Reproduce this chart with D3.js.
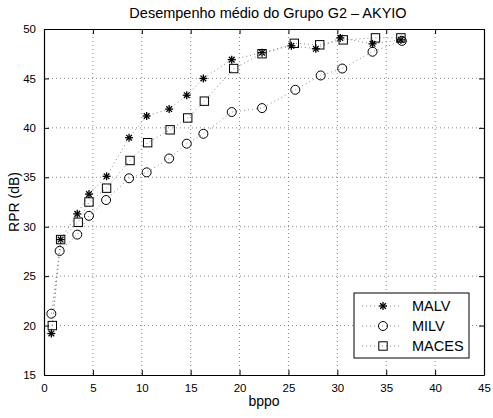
<!DOCTYPE html>
<html>
<head>
<meta charset="utf-8">
<script src="https://cdn.jsdelivr.net/npm/d3@7"></script>
<style>
  body { margin: 0; background: #fff; }
  svg { display: block; font-family: "Liberation Sans", Arial, sans-serif; }
</style>
</head>
<body>
<div id="chart"></div>
<script>
var title = "Desempenho médio do Grupo G2 – AKYIO";
var xLabel = "bppo", yLabel = "RPR (dB)";
var xTicks = [0, 5, 10, 15, 20, 25, 30, 35, 40, 45];
var yTicks = [15, 20, 25, 30, 35, 40, 45, 50];

var malvX = [0.75, 1.7, 3.4, 4.6, 6.4, 8.7, 10.5, 12.8, 14.6, 16.3, 19.2, 22.3, 25.3, 27.8, 30.3, 33.6, 36.5];
var malvY = [19.2, 28.7, 31.3, 33.3, 35.1, 39.0, 41.2, 41.9, 43.3, 45.0, 46.9, 47.6, 48.3, 48.0, 49.1, 48.5, 48.9];
var milvX = [0.75, 1.6, 3.4, 4.6, 6.35, 8.7, 10.5, 12.8, 14.6, 16.3, 19.2, 22.3, 25.7, 28.3, 30.5, 33.6, 36.6];
var milvY = [21.2, 27.55, 29.2, 31.1, 32.7, 34.9, 35.5, 36.9, 38.4, 39.4, 41.6, 42.0, 43.85, 45.3, 46.0, 47.7, 48.8];
var macesX = [0.85, 1.7, 3.5, 4.6, 6.4, 8.8, 10.6, 12.9, 14.7, 16.4, 19.4, 22.3, 25.6, 28.2, 30.6, 33.9, 36.5];
var macesY = [20.0, 28.7, 30.45, 32.5, 33.9, 36.7, 38.5, 39.8, 41.0, 42.7, 46.0, 47.5, 48.55, 48.4, 48.9, 49.1, 49.1];

var seriesNames = ["MALV", "MILV", "MACES"];
var seriesX = [malvX, milvX, macesX];
var seriesY = [malvY, milvY, macesY];
var markers = ["star", "circle", "square"];

var width = 493, height = 418;
var margin = {top: 29, right: 9, bottom: 43, left: 44};
var w = width - margin.left - margin.right,
    h = height - margin.top - margin.bottom;

var svg = d3.select("#chart").append("svg")
    .attr("width", width)
    .attr("height", height);

var g = svg.append("g")
    .attr("transform", "translate(" + margin.left + "," + margin.top + ")");

var x = d3.scaleLinear().domain([0, 45]).range([0, w]);
var y = d3.scaleLinear().domain([15, 50]).range([h, 0]);

// grid
g.selectAll(".gx").data(xTicks.slice(1, -1)).enter().append("line")
    .attr("x1", x).attr("x2", x).attr("y1", 0).attr("y2", h)
    .attr("stroke", "#555").attr("stroke-width", 0.7)
    .attr("stroke-dasharray", "1,3");
g.selectAll(".gy").data(yTicks.slice(1, -1)).enter().append("line")
    .attr("y1", y).attr("y2", y).attr("x1", 0).attr("x2", w)
    .attr("stroke", "#555").attr("stroke-width", 0.7)
    .attr("stroke-dasharray", "1,3");

// axes, ticks pointing inward
var axB = g.append("g").attr("transform", "translate(0," + h + ")")
    .call(d3.axisBottom(x).tickValues(xTicks).tickSizeInner(-5).tickSizeOuter(0).tickPadding(9));
var axT = g.append("g")
    .call(d3.axisTop(x).tickValues(xTicks).tickSizeInner(-5).tickSizeOuter(0).tickFormat(""));
var axL = g.append("g")
    .call(d3.axisLeft(y).tickValues(yTicks).tickSizeInner(-5).tickSizeOuter(0).tickPadding(8));
var axR = g.append("g").attr("transform", "translate(" + w + ",0)")
    .call(d3.axisRight(y).tickValues(yTicks).tickSizeInner(-5).tickSizeOuter(0).tickFormat(""));

[axB, axT, axL, axR].forEach(function(a) {
  a.select(".domain").attr("stroke", "#000").attr("stroke-width", 1.2);
  a.selectAll(".tick line").attr("stroke", "#000");
  a.selectAll("text").attr("font-size", 11.5).attr("fill", "#000")
      .attr("font-family", "Liberation Sans, Arial, sans-serif");
});

var line = d3.line()
    .x(function(d) { return x(d[0]); })
    .y(function(d) { return y(d[1]); });

function drawMarker(sel, type, cx, cy) {
  if (type === "star") {
    var s = sel.append("g").attr("transform", "translate(" + cx + "," + cy + ")");
    [0, 45, 90, 135].forEach(function(a) {
      s.append("line").attr("x1", -4).attr("x2", 4).attr("y1", 0).attr("y2", 0)
          .attr("transform", "rotate(" + a + ")")
          .attr("stroke", "#000").attr("stroke-width", 1.3);
    });
  } else if (type === "circle") {
    sel.append("circle").attr("cx", cx).attr("cy", cy).attr("r", 4.5)
        .attr("fill", "none").attr("stroke", "#000").attr("stroke-width", 1);
  } else {
    sel.append("rect").attr("x", cx - 4.2).attr("y", cy - 4.2)
        .attr("width", 8.4).attr("height", 8.4)
        .attr("fill", "none").attr("stroke", "#000").attr("stroke-width", 1);
  }
}

seriesNames.forEach(function(name, i) {
  var pts = d3.zip(seriesX[i], seriesY[i]);
  g.append("path").datum(pts)
      .attr("d", line)
      .attr("fill", "none")
      .attr("stroke", "#888")
      .attr("stroke-width", 1)
      .attr("stroke-dasharray", "1,3");
  var mg = g.append("g");
  pts.forEach(function(p) { drawMarker(mg, markers[i], x(p[0]), y(p[1])); });
});

// legend
var lg = svg.append("g").attr("transform", "translate(354,293)");
lg.append("rect").attr("width", 115).attr("height", 65)
    .attr("fill", "#fff").attr("stroke", "#000").attr("stroke-width", 1);
seriesNames.forEach(function(name, i) {
  var yy = 13 + i * 20;
  lg.append("line").attr("x1", 8).attr("x2", 46).attr("y1", yy).attr("y2", yy)
      .attr("stroke", "#888").attr("stroke-dasharray", "1,3");
  drawMarker(lg, markers[i], 29, yy);
  lg.append("text").attr("x", 58).attr("y", yy + 5)
      .attr("font-size", 14.5).text(name);
});

// labels
svg.append("text").attr("x", 268).attr("y", 18)
    .attr("text-anchor", "middle").attr("font-size", 14.5).text(title);
svg.append("text").attr("x", margin.left + w / 2).attr("y", 406)
    .attr("text-anchor", "middle").attr("font-size", 14).text(xLabel);
svg.append("text")
    .attr("transform", "translate(19," + (margin.top + h / 2) + ") rotate(-90)")
    .attr("text-anchor", "middle").attr("font-size", 14).text(yLabel);
</script>
</body>
</html>
